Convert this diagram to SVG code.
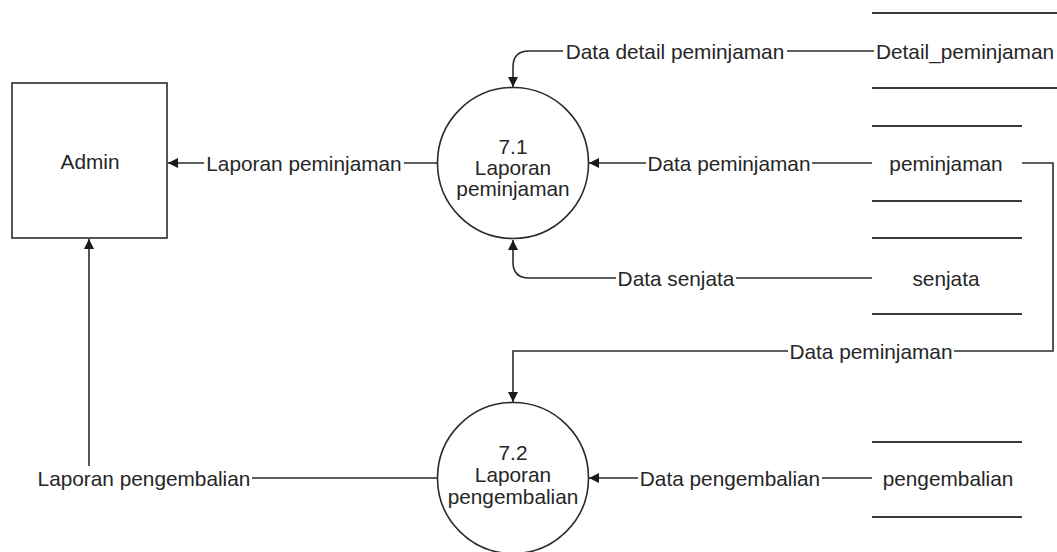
<svg xmlns="http://www.w3.org/2000/svg" width="1057" height="552" viewBox="0 0 1057 552">
  <style>
    .shape { fill: #ffffff; stroke: #2b2b2b; stroke-width: 1.6; }
    .line { fill: none; stroke: #2b2b2b; stroke-width: 1.6; }
    .store { stroke: #3a3a3a; stroke-width: 2; }
    .txt { font-family: "Liberation Sans", Arial, sans-serif; font-size: 20.8px; fill: #262626; }
    .mid { text-anchor: middle; }
    .bg { fill: #ffffff; stroke: none; }
  </style>
  <defs>
    <marker id="arrow" viewBox="0 0 10 10" refX="10" refY="5" markerWidth="11" markerHeight="10" markerUnits="userSpaceOnUse" orient="auto">
      <path d="M0,0 L10,5 L0,10 z" fill="#1a1a1a"/>
    </marker>
  </defs>
  <rect width="1057" height="552" fill="#ffffff"/>

  <g id="connectors">
    <path id="c-detail" class="line" d="M874 51 H529 Q513 51 513 67 V87" marker-end="url(#arrow)"/>
    <path id="c-pem-71" class="line" d="M872 163 H589" marker-end="url(#arrow)"/>
    <path id="c-senjata" class="line" d="M872 278 H529 Q513 278 513 262 V240" marker-end="url(#arrow)"/>
    <path id="c-lap-pem" class="line" d="M437 163 H168" marker-end="url(#arrow)"/>
    <path id="c-pem-72" class="line" d="M1022 163 H1053 V351 H513 V402" marker-end="url(#arrow)"/>
    <path id="c-pengembalian" class="line" d="M872 478 H589" marker-end="url(#arrow)"/>
    <path id="c-lap-peng" class="line" d="M437 478 H89 V239" marker-end="url(#arrow)"/>

    <rect class="bg" x="563" y="39" width="224" height="24"/>
    <text class="txt mid" x="675" y="58.5">Data detail peminjaman</text>
    <rect class="bg" x="204" y="151" width="200" height="24"/>
    <text class="txt mid" x="304" y="170.5">Laporan peminjaman</text>
    <rect class="bg" x="646" y="151" width="166" height="24"/>
    <text class="txt mid" x="729" y="170.5">Data peminjaman</text>
    <rect class="bg" x="616" y="266" width="120" height="24"/>
    <text class="txt mid" x="676" y="285.5">Data senjata</text>
    <rect class="bg" x="788" y="339" width="166" height="24"/>
    <text class="txt mid" x="871" y="358.5">Data peminjaman</text>
    <rect class="bg" x="638" y="466" width="184" height="24"/>
    <text class="txt mid" x="730" y="485.5">Data pengembalian</text>
    <rect class="bg" x="36" y="466" width="216" height="24"/>
    <text class="txt mid" x="144" y="485.5">Laporan pengembalian</text>
  </g>

  <g id="admin">
    <rect class="shape" x="12" y="83" width="155" height="155"/>
    <text class="txt mid" x="90" y="169">Admin</text>
  </g>

  <g id="proc-7-1">
    <circle class="shape" cx="513" cy="163" r="75.5"/>
    <text class="txt mid" x="513" y="154">7.1</text>
    <text class="txt mid" x="513" y="175">Laporan</text>
    <text class="txt mid" x="513" y="196">peminjaman</text>
  </g>

  <g id="proc-7-2">
    <circle class="shape" cx="513" cy="478" r="75.5"/>
    <text class="txt mid" x="513" y="460">7.2</text>
    <text class="txt mid" x="513" y="482">Laporan</text>
    <text class="txt mid" x="513" y="504">pengembalian</text>
  </g>

  <g id="store-detail-peminjaman">
    <line class="store" x1="872" y1="13" x2="1057" y2="13"/>
    <line class="store" x1="872" y1="88" x2="1057" y2="88"/>
    <text class="txt" x="876" y="58.5">Detail_peminjaman</text>
  </g>

  <g id="store-peminjaman">
    <line class="store" x1="872" y1="126" x2="1022" y2="126"/>
    <line class="store" x1="872" y1="201" x2="1022" y2="201"/>
    <text class="txt mid" x="946" y="170.5">peminjaman</text>
  </g>

  <g id="store-senjata">
    <line class="store" x1="872" y1="238" x2="1022" y2="238"/>
    <line class="store" x1="872" y1="314" x2="1022" y2="314"/>
    <text class="txt mid" x="946" y="285.5">senjata</text>
  </g>

  <g id="store-pengembalian">
    <line class="store" x1="872" y1="442" x2="1022" y2="442"/>
    <line class="store" x1="872" y1="517" x2="1022" y2="517"/>
    <text class="txt mid" x="948" y="485.5">pengembalian</text>
  </g>
</svg>
